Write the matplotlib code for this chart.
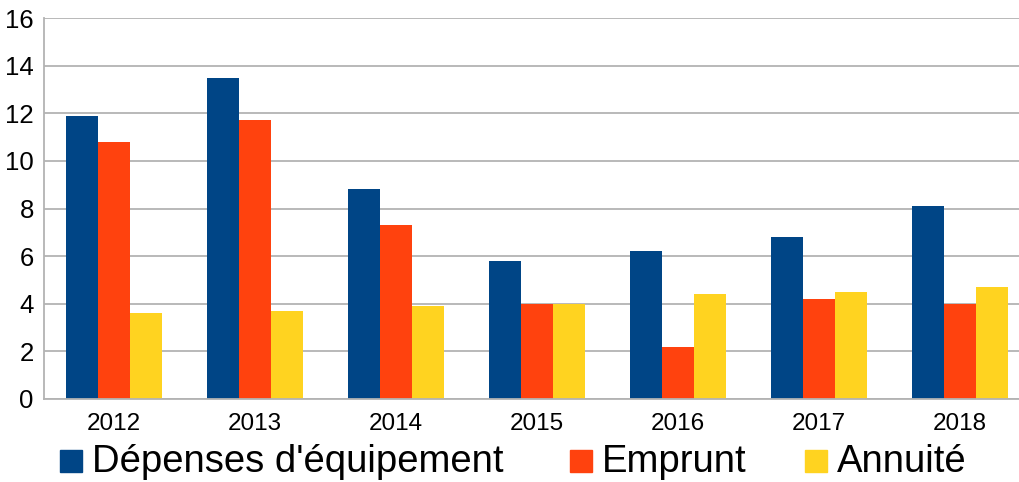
import numpy as np
import matplotlib
matplotlib.use("Agg")
import matplotlib.pyplot as plt
from matplotlib.patches import Rectangle

plt.rcParams['font.family'] = ['Liberation Sans', 'DejaVu Sans']

years = ["2012", "2013", "2014", "2015", "2016", "2017", "2018"]
depenses = [11.9, 13.5, 8.8, 5.8, 6.2, 6.8, 8.1]
emprunt = [10.8, 11.7, 7.3, 4.0, 2.2, 4.2, 4.0]
annuite = [3.6, 3.7, 3.9, 4.0, 4.4, 4.5, 4.7]
series_names = ["Dépenses d'équipement", "Emprunt", "Annuité"]
colors = ["#004586", "#ff420e", "#ffd320"]

W, H = 1019, 482
fig = plt.figure(figsize=(W / 100, H / 100), dpi=100)
ax = fig.add_axes([43.5 / W, 83 / H, (W - 43.5) / W, 381 / H])

x = np.arange(len(years))
bw = 0.227
for i, vals in enumerate([depenses, emprunt, annuite]):
    ax.bar(x + (i - 1) * bw, vals, width=bw, color=colors[i], zorder=3)

ax.set_ylim(0, 16)
ax.set_yticks(range(0, 17, 2))
ax.set_xlim(-0.5, (W - 43.5) / 141 - 0.5)
ax.set_xticks(x)
ax.set_xticklabels(years, fontsize=17.5)
ax.tick_params(axis='y', labelsize=18.5, length=0, pad=7)
ax.tick_params(axis='x', length=0, pad=10)
ax.grid(axis='y', color='#b3b3b3', linewidth=1.3, zorder=0)
for s in ['top', 'right']:
    ax.spines[s].set_visible(False)
for s in ['left', 'bottom']:
    ax.spines[s].set_color('#b3b3b3')
    ax.spines[s].set_linewidth(1.3)
    ax.spines[s].set_zorder(4)

# legend drawn by hand below the axis
sq_x = [60, 570, 805]
txt_x = [92, 602, 837]
for name, c, sx, tx in zip(series_names, colors, sq_x, txt_x):
    fig.patches.append(Rectangle((sx / W, (H - 472) / H), 22 / W, 22 / H,
                                 transform=fig.transFigure, color=c))
    fig.text(tx / W, (H - 472) / H, name, fontsize=27.5, va='baseline', ha='left')

fig.savefig("out.png", dpi=100)
